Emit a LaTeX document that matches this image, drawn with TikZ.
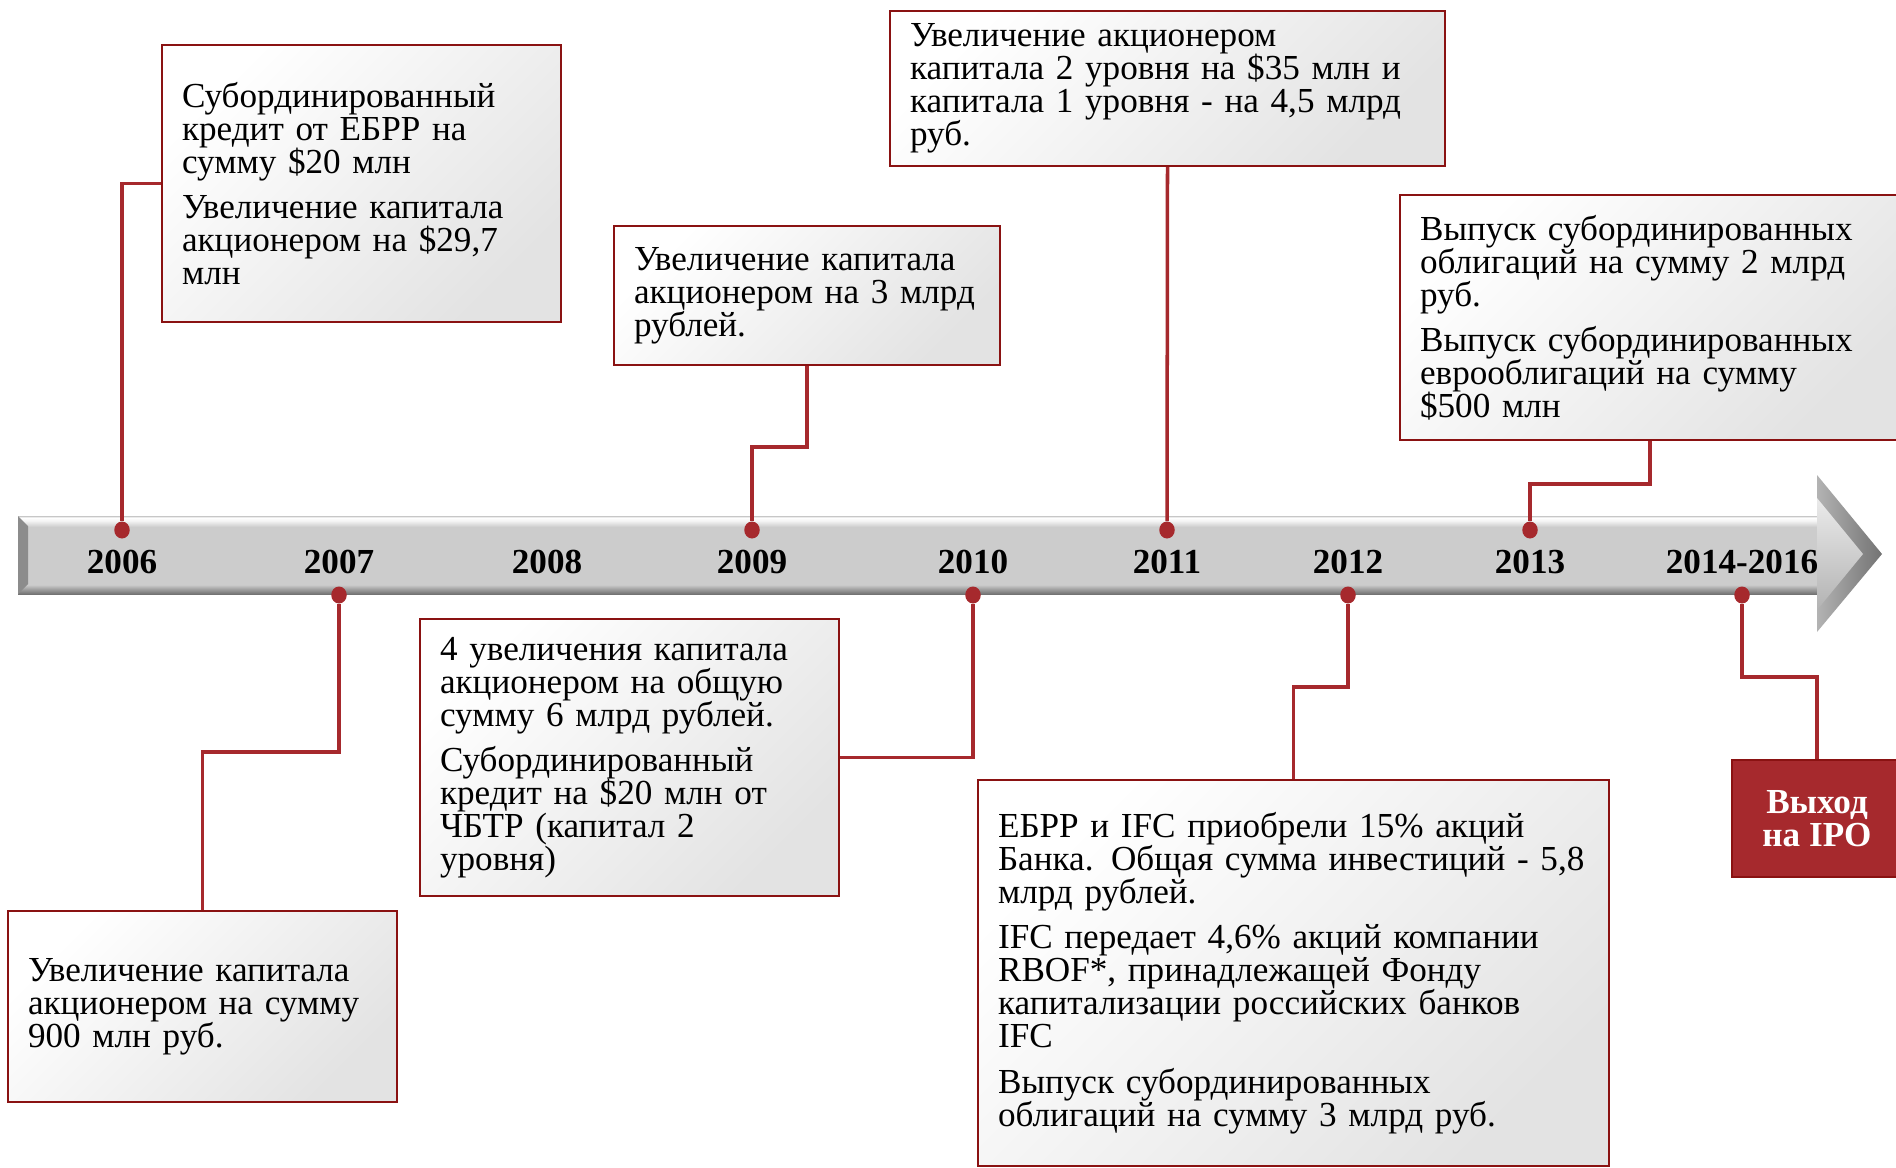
\documentclass[tikz,border=0pt]{standalone}
\usepackage{fontspec}
\setmainfont{Liberation Serif}
\usetikzlibrary{calc}

\definecolor{tlred}{RGB}{166,41,45}
\definecolor{tlframe}{RGB}{138,18,18}

\pgfdeclareverticalshading{tlbar}{100bp}{color(0bp)=(black!55); color(25bp)=(black!55); color(28bp)=(black!38); color(31bp)=(black!20); color(68bp)=(black!20); color(72bp)=(black!4); color(74bp)=(white); color(75bp)=(black!22); color(100bp)=(black!22)}

\tikzset{
	tlbox/.style={draw=tlframe, line width=1.4pt, top color=white, bottom color=black!11, shading angle=45, align=left, inner xsep=0.4cm, inner ysep=0pt, font=\fontsize{20}{18.8}\selectfont},
	tlipo/.style={draw=tlframe, line width=1.4pt, fill=tlred, text=white, align=center, inner sep=0pt, font=\bfseries\fontsize{20}{18.8}\selectfont},
	tlline/.style={line width=2pt, color=tlred},
	tldot/.style={ellipse, fill=tlred, inner sep=0pt, minimum width=0.31cm, minimum height=0.34cm},
	tlyear/.style={inner sep=0pt, font=\bfseries\fontsize{20}{24}\selectfont}
}
\usetikzlibrary{shapes.geometric}

\begin{document}
\begin{tikzpicture}[x=0.02cm, y=-0.02cm]
			%%%%% START %%%%%
			\useasboundingbox (0, 0) rectangle (1896, 1167);
			\clip (0, 0) rectangle (1896, 1167);
			
			% time arrow
			\shade[shading=tlbar] (18, 516) rectangle (1817, 594);
			\fill[black!45] (18, 516) -- (28, 526) -- (28, 584) -- (18, 594) -- cycle;
			\shade[left color=black!30, right color=black!55] (1817, 475) -- (1882, 554) -- (1817, 632) -- cycle;
			\shade[top color=black!8, bottom color=black!30] (1817, 498) -- (1863, 554) -- (1817, 610) -- cycle;
			
			\node[tlyear] (y2006) at (122, 562) {2006};
			\node[tlyear] (y2007) at (339, 562) {2007};
			\node[tlyear] (y2008) at (547, 562) {2008};
			\node[tlyear] (y2009) at (752, 562) {2009};
			\node[tlyear] (y2010) at (973, 562) {2010};
			\node[tlyear] (y2011) at (1167, 562) {2011};
			\node[tlyear] (y2012) at (1348, 562) {2012};
			\node[tlyear] (y2013) at (1530, 562) {2013};
			\node[tlyear] (y2014) at (1742, 562) {2014-2016};
			
			\node[tldot] (d2006) at (122, 530) {};
			\node[tldot] (d2009) at (752, 530) {};
			\node[tldot] (d2011) at (1167, 530) {};
			\node[tldot] (d2013) at (1530, 530) {};
			\node[tldot] (d2007) at (339, 595) {};
			\node[tldot] (d2010) at (973, 595) {};
			\node[tldot] (d2012) at (1348, 595) {};
			\node[tldot] (d2014) at (1742, 595) {};
			
			% events above
			\node[tlbox, text width=7.18cm, minimum height=5.54cm] (b2006) at (361.5, 183.5)
				{Субординированный\\кредит от ЕБРР на\\сумму \$20 млн\\[7pt]Увеличение капитала\\акционером на \$29,7\\млн};
			\node[tlbox, text width=6.92cm, minimum height=2.78cm] (b2009) at (807, 295.5)
				{Увеличение капитала\\акционером на 3 млрд\\рублей.};
			\node[tlbox, text width=10.3cm, minimum height=3.1cm] (b2011) at (1167.5, 88.5)
				{Увеличение акционером\\капитала 2 уровня на \$35 млн и\\капитала 1 уровня - на 4,5 млрд\\руб.};
			\node[tlbox, text width=9.2cm, minimum height=4.9cm] (b2013) at (1650, 317.5)
				{Выпуск субординированных\\облигаций на сумму 2 млрд\\руб.\\[7pt]Выпуск субординированных\\еврооблигаций на сумму\\\$500 млн};
			
			% events below
			\node[tlbox, text width=6.98cm, minimum height=3.82cm] (b2007) at (202.5, 1006.5)
				{Увеличение капитала\\акционером на сумму\\900 млн руб.};
			\node[tlbox, text width=7.58cm, minimum height=5.54cm] (b2008) at (629.5, 757.5)
				{4 увеличения капитала\\акционером на общую\\сумму 6 млрд рублей.\\[7pt]Субординированный\\кредит на \$20 млн от\\ЧБТР (капитал 2\\уровня)};
			\node[tlbox, text width=11.82cm, minimum height=7.72cm] (b2012) at (1293.5, 973)
				{ЕБРР и IFC приобрели 15\% акций\\Банка. Общая сумма инвестиций - 5,8\\млрд рублей.\\[7pt]IFC передает 4,6\% акций компании\\RBOF*, принадлежащей Фонду\\капитализации российских банков\\IFC\\[7pt]Выпуск субординированных\\облигаций на сумму 3 млрд руб.};
			\node[tlipo, minimum width=3.4cm, minimum height=2.34cm] (ipo) at (1817, 818.5)
				{Выход\\на IPO};
			
			\draw[tlline] (d2006) |- (b2006.west);
			\draw[tlline] (d2009) -- ++(0, -83) -| (b2009.south);
			\draw[tlline] (d2011) -- (b2011.south);
			\draw[tlline] (d2013) -- ++(0, -46) -| (b2013.south);
			
			\draw[tlline] (d2007) -- ++(0, 157) -| (b2007.north);
			\draw[tlline] (d2010) |- (b2008.east);
			\draw[tlline] (d2012) -- ++(0, 92) -| (b2012.north);
			\draw[tlline] (d2014) -- ++(0, 82) -| (ipo.north);
			%%%%% END %%%%%
\end{tikzpicture}
\end{document}
